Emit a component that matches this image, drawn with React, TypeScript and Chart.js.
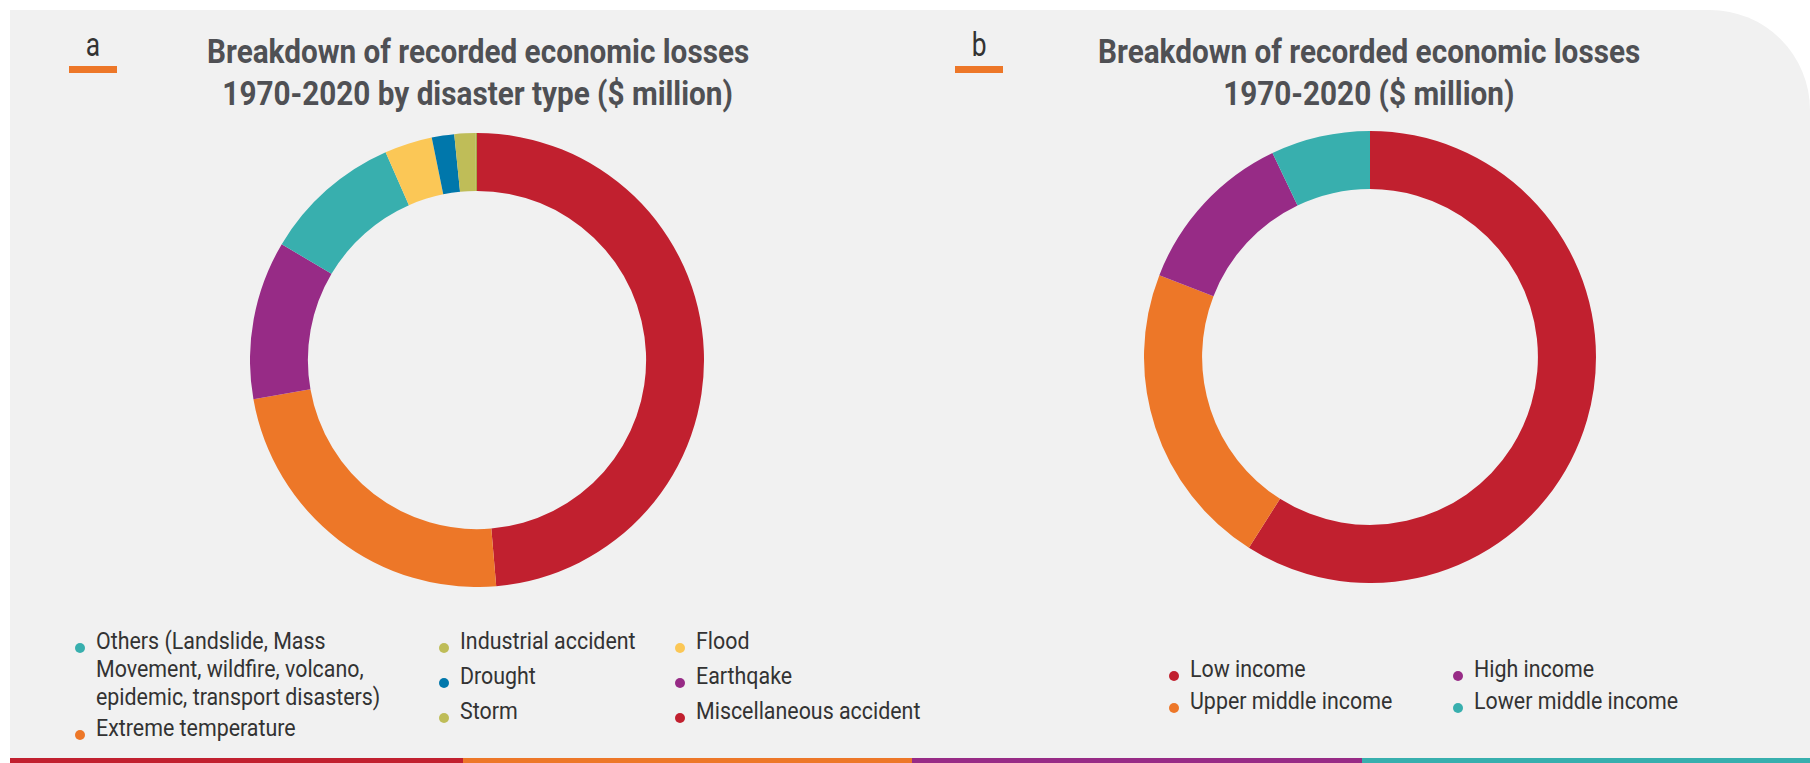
import React, { useEffect, useRef } from "react";
import { Chart, registerables } from "chart.js";

Chart.register(...registerables);

// Panel a: recorded economic losses by disaster type (share, clockwise from top)
const typeLabels = [
  "Miscellaneous accident",
  "Extreme temperature",
  "Earthqake",
  "Others (Landslide, Mass Movement, wildfire, volcano, epidemic, transport disasters)",
  "Flood",
  "Drought",
  "Storm",
  "Industrial accident",
];
const typeValues = [48.7, 23.6, 11.3, 9.9, 3.4, 1.6, 1.5, 0.1];
const typeColors = ["#c1202f", "#ed7728", "#972b86", "#38afae", "#fbc756", "#0077ab", "#bfbd58", "#a9a846"];

// Panel b: recorded economic losses by income group (share, clockwise from top)
const incomeLabels = ["Low income", "Upper middle income", "High income", "Lower middle income"];
const incomeValues = [59.0, 21.9, 12.0, 7.1];
const incomeColors = ["#c1202f", "#ed7728", "#972b86", "#38afae"];

const titleA = ["Breakdown of recorded economic losses", "1970-2020 by disaster type ($ million)"];
const titleB = ["Breakdown of recorded economic losses", "1970-2020 ($ million)"];

// legend layout (columns of [label lines, color])
const legendA: [string[], string][][] = [
  [
    [["Others (Landslide, Mass", "Movement, wildfire, volcano,", "epidemic, transport disasters)"], "#38afae"],
    [["Extreme temperature"], "#ed7728"],
  ],
  [
    [["Industrial accident"], "#bfbd58"],
    [["Drought"], "#0077ab"],
    [["Storm"], "#bfbd58"],
  ],
  [
    [["Flood"], "#fbc756"],
    [["Earthqake"], "#972b86"],
    [["Miscellaneous accident"], "#c1202f"],
  ],
];
const legendB: [string[], string][][] = [
  [
    [["Low income"], "#c1202f"],
    [["Upper middle income"], "#ed7728"],
  ],
  [
    [["High income"], "#972b86"],
    [["Lower middle income"], "#38afae"],
  ],
];

function Donut(props: { labels: string[]; values: number[]; colors: string[]; size: number; left: number; top: number; cutout: string }) {
  const ref = useRef<HTMLCanvasElement | null>(null);
  useEffect(() => {
    if (!ref.current) return;
    const chart = new Chart(ref.current, {
      type: "doughnut",
      data: {
        labels: props.labels,
        datasets: [
          {
            data: props.values,
            backgroundColor: props.colors,
            borderWidth: 0,
          },
        ],
      },
      options: {
        responsive: false,
        animation: false,
        cutout: props.cutout,
        layout: { padding: 0 },
        plugins: { legend: { display: false }, tooltip: { enabled: false }, title: { display: false } },
      },
    });
    return () => chart.destroy();
  }, []);
  return (
    <canvas
      ref={ref}
      width={props.size}
      height={props.size}
      style={{ position: "absolute", left: props.left, top: props.top, width: props.size, height: props.size }}
    />
  );
}

function Title(props: { lines: string[]; cx: number }) {
  return (
    <div style={{ position: "absolute", left: props.cx - 400, top: 31, width: 800, textAlign: "center" }}>
      {props.lines.map((l, i) => (
        <div key={i} style={{ height: 42, lineHeight: "42px" }}>
          <span
            style={{
              fontFamily: "Roboto, sans-serif",
              fontWeight: 700,
              fontSize: 33,
              color: "#4f5054",
              display: "inline-block",
              transform: "scaleX(0.9)",
              whiteSpace: "nowrap",
            }}
          >
            {l}
          </span>
        </div>
      ))}
    </div>
  );
}

function Letter(props: { ch: string; x: number }) {
  return (
    <>
      <div
        style={{
          position: "absolute",
          left: props.x,
          top: 28,
          width: 48,
          textAlign: "center",
          fontFamily: "Roboto, sans-serif",
          fontWeight: 400,
          fontSize: 33,
          lineHeight: "34px",
          color: "#333",
        }}
      >
        <span style={{ display: "inline-block", transform: "scaleX(0.8)" }}>{props.ch}</span>
      </div>
      <div style={{ position: "absolute", left: props.x, top: 66, width: 48, height: 7, background: "#ed7728" }} />
    </>
  );
}

function Legend(props: { cols: [string[], string][][]; xs: number[]; top: number; gaps: number[] }) {
  return (
    <>
      {props.cols.map((col, ci) => {
        let y = props.top;
        return col.map((item, ii) => {
          const [lines, color] = item;
          const el = (
            <div key={ci + "-" + ii} style={{ position: "absolute", left: props.xs[ci], top: y }}>
              <div
                style={{
                  position: "absolute",
                  left: -21,
                  top: 15,
                  width: 10,
                  height: 10,
                  borderRadius: 5,
                  background: color,
                }}
              />
              {lines.map((l, li) => (
                <div key={li} style={{ height: 28, lineHeight: "28px" }}>
                  <span
                    style={{
                      fontFamily: "Roboto, sans-serif",
                      display: "inline-block",
                      transformOrigin: "left center",
                      whiteSpace: "nowrap",
                      fontSize: 23,
                      color: "#333333",
                      transform: "scaleX(0.93)",
                    }}
                  >
                    {l}
                  </span>
                </div>
              ))}
            </div>
          );
          y += lines.length * 28 + props.gaps[ci];
          return el;
        });
      })}
    </>
  );
}

export default function App() {
  return (
    <div style={{ position: "absolute", left: 0, top: 0, width: 1810, height: 763, background: "#ffffff", overflow: "hidden" }}>
      <div
        style={{
          position: "absolute",
          left: 10,
          top: 10,
          width: 1800,
          height: 748,
          background: "#f1f1f1",
          borderTopRightRadius: 100,
        }}
      />
      <div style={{ position: "absolute", left: 10, top: 758, width: 453, height: 5, background: "#c1202f" }} />
      <div style={{ position: "absolute", left: 463, top: 758, width: 449, height: 5, background: "#ed7728" }} />
      <div style={{ position: "absolute", left: 912, top: 758, width: 450, height: 5, background: "#972b86" }} />
      <div style={{ position: "absolute", left: 1362, top: 758, width: 448, height: 5, background: "#38afae" }} />

      <Letter ch="a" x={69} />
      <Letter ch="b" x={955} />
      <Title lines={titleA} cx={478} />
      <Title lines={titleB} cx={1369} />

      <Donut labels={typeLabels} values={typeValues} colors={typeColors} size={454} left={250} top={133} cutout="74.5%" />
      <Donut labels={incomeLabels} values={incomeValues} colors={incomeColors} size={452} left={1144} top={131} cutout="74.3%" />

      <Legend cols={legendA} xs={[96, 460, 696]} top={628} gaps={[3, 7, 7]} />
      <Legend cols={legendB} xs={[1190, 1474]} top={656} gaps={[4, 4]} />
    </div>
  );
}
